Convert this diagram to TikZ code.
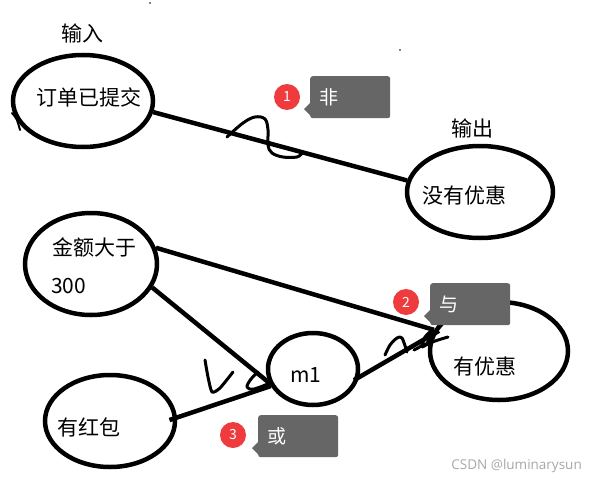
\documentclass[tikz,border=0pt]{standalone}
\usepackage{fontspec}
\setmainfont{Noto Sans CJK SC}
\newfontfamily\wmfont{Open Sans}
\usetikzlibrary{shapes.geometric}
\definecolor{badgered}{HTML}{EF3B3D}
\definecolor{tipgrey}{HTML}{666666}
\definecolor{wmgrey}{HTML}{A8A8A8}
\tikzset{
  oval/.style={ellipse, draw=black, line width=4.5pt, inner sep=0pt},
  link/.style={draw=black, line width=4.5pt},
  scribble/.style={draw=black, line width=3pt, line cap=round, line join=round},
  txt/.style={font=\fontsize{21}{24}\selectfont, inner sep=0pt},
  redbadge/.style={circle, fill=badgered, inner sep=0pt, minimum size=26pt, text=white, font=\fontsize{14}{16}\selectfont},
  tipbox/.style={rectangle, fill=tipgrey, rounded corners=2.5pt, anchor=north west, minimum height=42pt, text width=62pt, inner xsep=9pt, align=left, text=white, font=\fontsize{19}{22}\selectfont},
}
\begin{document}
\begin{tikzpicture}[x=1pt,y=-1pt]
\useasboundingbox (0,0) rectangle (596,487);
\fill[white] (0,0) rectangle (596,487);

% labels
\node[txt] (lin) at (82,33) {输入};
\node[txt] (lout) at (472,128) {输出};

% ellipses
\node[oval, minimum width=140pt, minimum height=92pt] (ord) at (83,101) {};
\node[txt] (tord) at (89,97) {订单已提交};

\node[oval, minimum width=146pt, minimum height=92pt] (nod) at (480,192) {};
\node[txt] (tnod) at (464,196) {没有优惠};

\node[oval, minimum width=132pt, minimum height=102pt] (amt) at (91,264) {};
\node[txt, anchor=west] (tamt1) at (52,247) {金额大于};
\node[txt, anchor=west] (tamt2) at (51,286) {300};

\node[oval, minimum width=130pt, minimum height=92pt] (red) at (110,421) {};
\node[txt] (tred) at (89,427) {有红包};

\node[oval, minimum width=90pt, minimum height=72pt] (m1) at (313,369) {};
\node[txt] (tm1) at (306,375) {m1};

\node[oval, minimum width=138pt, minimum height=98pt] (dis) at (499,351) {};
\node[txt] (tdis) at (485,367) {有优惠};

% connectors
\draw[link] (ord.-9) -- (nod.171);
\draw[link] (amt.14) -- (dis.162);
\draw[link] (amt.-21) -- (m1.-163);
\draw[link, shorten <=-8pt] (red.3) -- (m1.-158);
\draw[link, shorten <=-6pt, shorten >=-9pt] (m1.-10) -- (dis.167);

% hand-drawn scribbles
\draw[scribble] plot[smooth, tension=0.6] coordinates {(227,137) (243,123) (255,117) (265,119) (268,130) (268,145) (272,153) (283,157) (297,157) (302,153)};
\draw[scribble] plot[smooth, tension=0.4] coordinates {(205,360) (208,377) (212,392) (220,388) (233,372)};
\draw[scribble] plot[smooth, tension=0.6] coordinates {(258,372) (251,379) (247,387) (254,389) (270,383)};
\draw[scribble] plot[smooth, tension=0.5] coordinates {(385,355) (390,345) (397,338) (402,338) (407,352)};
\draw[scribble] plot[smooth, tension=0.6] coordinates {(414,350) (422,345) (425,337) (432,331) (428,342) (422,347) (430,343) (438,340) (448,337)};
\draw[black, line width=2pt, line cap=round] (12,113) .. controls (17,119) .. (20,130);
\fill[black] (150,3) circle (0.8pt);
\fill[black] (400,50) circle (0.8pt);

% badges
\node[redbadge] (r1) at (287,97) {1};
\node[tipbox] (b1) at (310,76) {非};
\fill[tipgrey] ([yshift=-6pt]b1.west) -- ++(-6,6) -- ++(6,6) -- cycle;

\node[redbadge] (r2) at (406,302) {2};
\node[tipbox] (b2) at (430,283) {与};
\fill[tipgrey] ([yshift=-6pt]b2.west) -- ++(-6,6) -- ++(6,6) -- cycle;

\node[redbadge] (r3) at (233,435) {3};
\node[tipbox] (b3) at (258,415) {或};
\fill[tipgrey] ([yshift=-6pt]b3.west) -- ++(-6,6) -- ++(6,6) -- cycle;

% watermark
\node[font=\wmfont\fontsize{13.5}{16}\selectfont, text=wmgrey, anchor=east, inner sep=0pt] (wm) at (582,466) {CSDN @luminarysun};
\end{tikzpicture}
\end{document}
